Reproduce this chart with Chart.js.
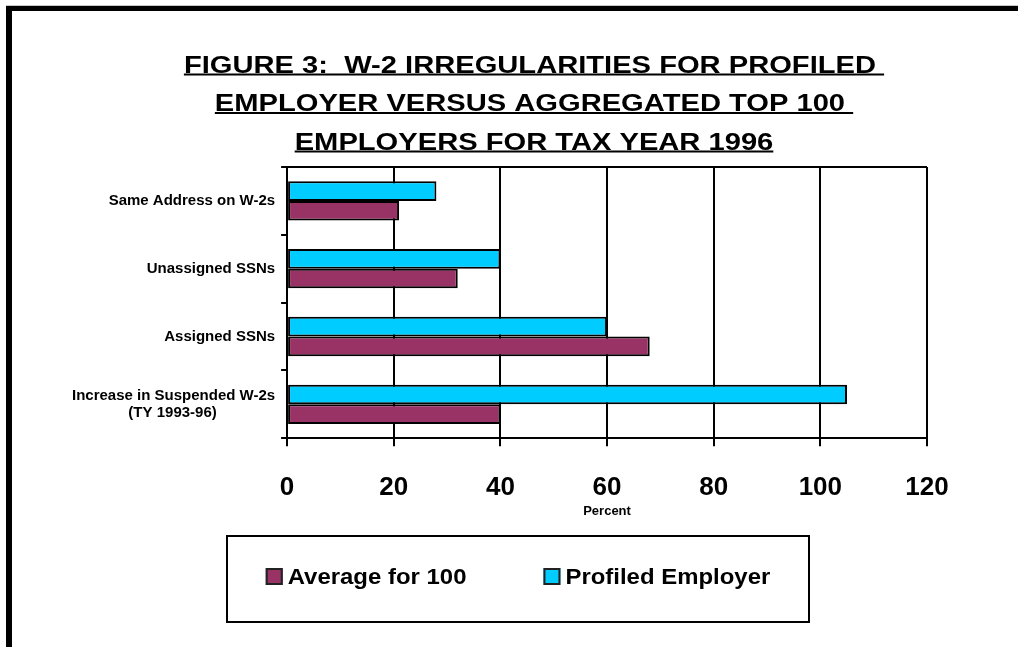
<!DOCTYPE html>
<html>
<head>
<meta charset="utf-8">
<script src="https://cdn.jsdelivr.net/npm/chart.js@4.4.0/dist/chart.umd.min.js"></script>
<style>
    html, body { margin: 0; padding: 0; background: #fff; overflow: hidden; }
    #frame { position: absolute; left: 6px; top: 6px; width: 1100px; height: 700px;
             border-top: 5px solid #000; border-left: 6px solid #000; box-shadow: 0 -1px 0 #c8c8c8; }
    #wrap { position: absolute; left: 0; top: 0; width: 1018px; height: 647px; }
</style>
</head>
<body>
<div id="frame"></div>
<div id="wrap"><canvas id="w2Chart"></canvas></div>
<script>
var categories = [
    "Same Address on W-2s",
    "Unassigned SSNs",
    "Assigned SSNs",
    ["Increase in Suspended W-2s", "(TY 1993-96)"]
];
var profiledEmployer = [28, 40, 60, 105];
var averageFor100 = [21, 32, 68, 40];
var xTicks = [0, 20, 40, 60, 80, 100, 120];
var titleLines = [
    "FIGURE 3:  W-2 IRREGULARITIES FOR PROFILED ",
    "EMPLOYER VERSUS AGGREGATED TOP 100 ",
    "EMPLOYERS FOR TAX YEAR 1996"
];

var labelFont = "bold 15px 'Liberation Sans'";

// pad shorter lines of a multi-line label so they sit centred under the longest one
function centerLines(label) {
    if (!Array.isArray(label)) return label;
    var c = document.createElement('canvas').getContext('2d');
    c.font = labelFont;
    var widths = label.map(function (l) { return c.measureText(l).width; });
    var widest = Math.max.apply(null, widths);
    var sp = c.measureText(' ').width;
    return label.map(function (l, i) {
        return l + ' '.repeat(Math.round((widest - widths[i]) / 2 / sp));
    });
}

var titlePlugin = {
    id: 'stretchedTitle',
    afterDraw: function (chart) {
        var ctx = chart.ctx;
        ctx.save();
        ctx.font = "bold 24.7px 'Liberation Sans'";
        ctx.fillStyle = '#000';
        ctx.textAlign = 'center';
        ctx.textBaseline = 'alphabetic';
        titleLines.forEach(function (line, i) {
            var w = ctx.measureText(line).width;
            ctx.save();
            ctx.translate(534, 72.5 + i * 38.5);
            ctx.scale(1.18, 1);
            ctx.fillText(line, 0, 0);
            ctx.fillRect(-w / 2, 1, w, 2);
            ctx.restore();
        });
        ctx.restore();
    }
};

var legendPlugin = {
    id: 'boxedLegend',
    afterDraw: function (chart) {
        var ctx = chart.ctx;
        var box = { x: 227, y: 536, w: 582, h: 86 };
        var stretch = 1.055, sw = 17, gap = 5, itemGap = 77, cy = 576.5;
        ctx.save();
        ctx.lineWidth = 2;
        ctx.strokeStyle = '#000';
        ctx.strokeRect(box.x, box.y, box.w, box.h);
        ctx.font = "bold 22.7px 'Liberation Sans'";
        var items = chart.data.datasets.slice().reverse();
        var widths = items.map(function (d) { return sw + gap + ctx.measureText(d.label).width * stretch; });
        var total = widths.reduce(function (a, b) { return a + b; }, 0) + itemGap * (items.length - 1);
        var x = box.x + (box.w - total) / 2;
        items.forEach(function (d, i) {
            ctx.fillStyle = d.backgroundColor;
            ctx.fillRect(x, cy - sw / 2, sw, sw);
            ctx.lineWidth = 2;
            ctx.strokeStyle = '#222';
            ctx.strokeRect(x + 1, cy - sw / 2 + 1, sw - 2, sw - 2);
            ctx.save();
            ctx.translate(x + sw + gap, 584);
            ctx.scale(stretch, 1);
            ctx.fillStyle = '#000';
            ctx.textAlign = 'left';
            ctx.textBaseline = 'alphabetic';
            ctx.fillText(d.label, 0, 0);
            ctx.restore();
            x += widths[i] + itemGap;
        });
        ctx.restore();
    }
};

document.addEventListener("DOMContentLoaded", function () {
    var ctx = document.getElementById('w2Chart').getContext('2d');
    new Chart(ctx, {
        type: 'bar',
        data: {
            labels: categories,
            datasets: [{
                label: 'Profiled Employer',
                data: profiledEmployer,
                backgroundColor: '#00CCFF',
                borderColor: '#000',
                borderWidth: 2,
                borderSkipped: false
            }, {
                label: 'Average for 100',
                data: averageFor100,
                backgroundColor: '#993366',
                borderColor: '#000',
                borderWidth: 2,
                borderSkipped: false
            }]
        },
        options: {
            indexAxis: 'y',
            responsive: true,
            maintainAspectRatio: false,
            animation: false,
            layout: { padding: { left: 66, right: 91, top: 167, bottom: 121 } },
            datasets: { bar: { categoryPercentage: 0.58, barPercentage: 1 } },
            plugins: {
                legend: { display: false },
                title: { display: false },
                tooltip: { enabled: false }
            },
            scales: {
                x: {
                    min: xTicks[0],
                    max: xTicks[xTicks.length - 1],
                    ticks: {
                        stepSize: xTicks[1] - xTicks[0],
                        color: '#000',
                        font: { family: 'Liberation Sans', size: 26, weight: 'bold' },
                        padding: 26
                    },
                    grid: { color: '#000', lineWidth: 2, tickLength: 8 },
                    border: { color: '#000', width: 2 },
                    title: {
                        display: true,
                        text: 'Percent',
                        color: '#000',
                        font: { family: 'Liberation Sans', size: 13, weight: 'bold' },
                        padding: { top: -26, bottom: 7 }
                    }
                },
                y: {
                    ticks: {
                        color: '#000',
                        font: { family: 'Liberation Sans', size: 15, weight: 'bold', lineHeight: 1.1 },
                        padding: 6,
                        callback: function (value) { return centerLines(this.getLabelForValue(value)); }
                    },
                    grid: {
                        color: function (c) { return c.index === 0 ? '#000' : 'rgba(0,0,0,0)'; },
                        tickColor: '#000',
                        lineWidth: 2,
                        tickLength: 6
                    },
                    border: { color: '#000', width: 2 }
                }
            }
        },
        plugins: [titlePlugin, legendPlugin]
    });
});
</script>
</body>
</html>
